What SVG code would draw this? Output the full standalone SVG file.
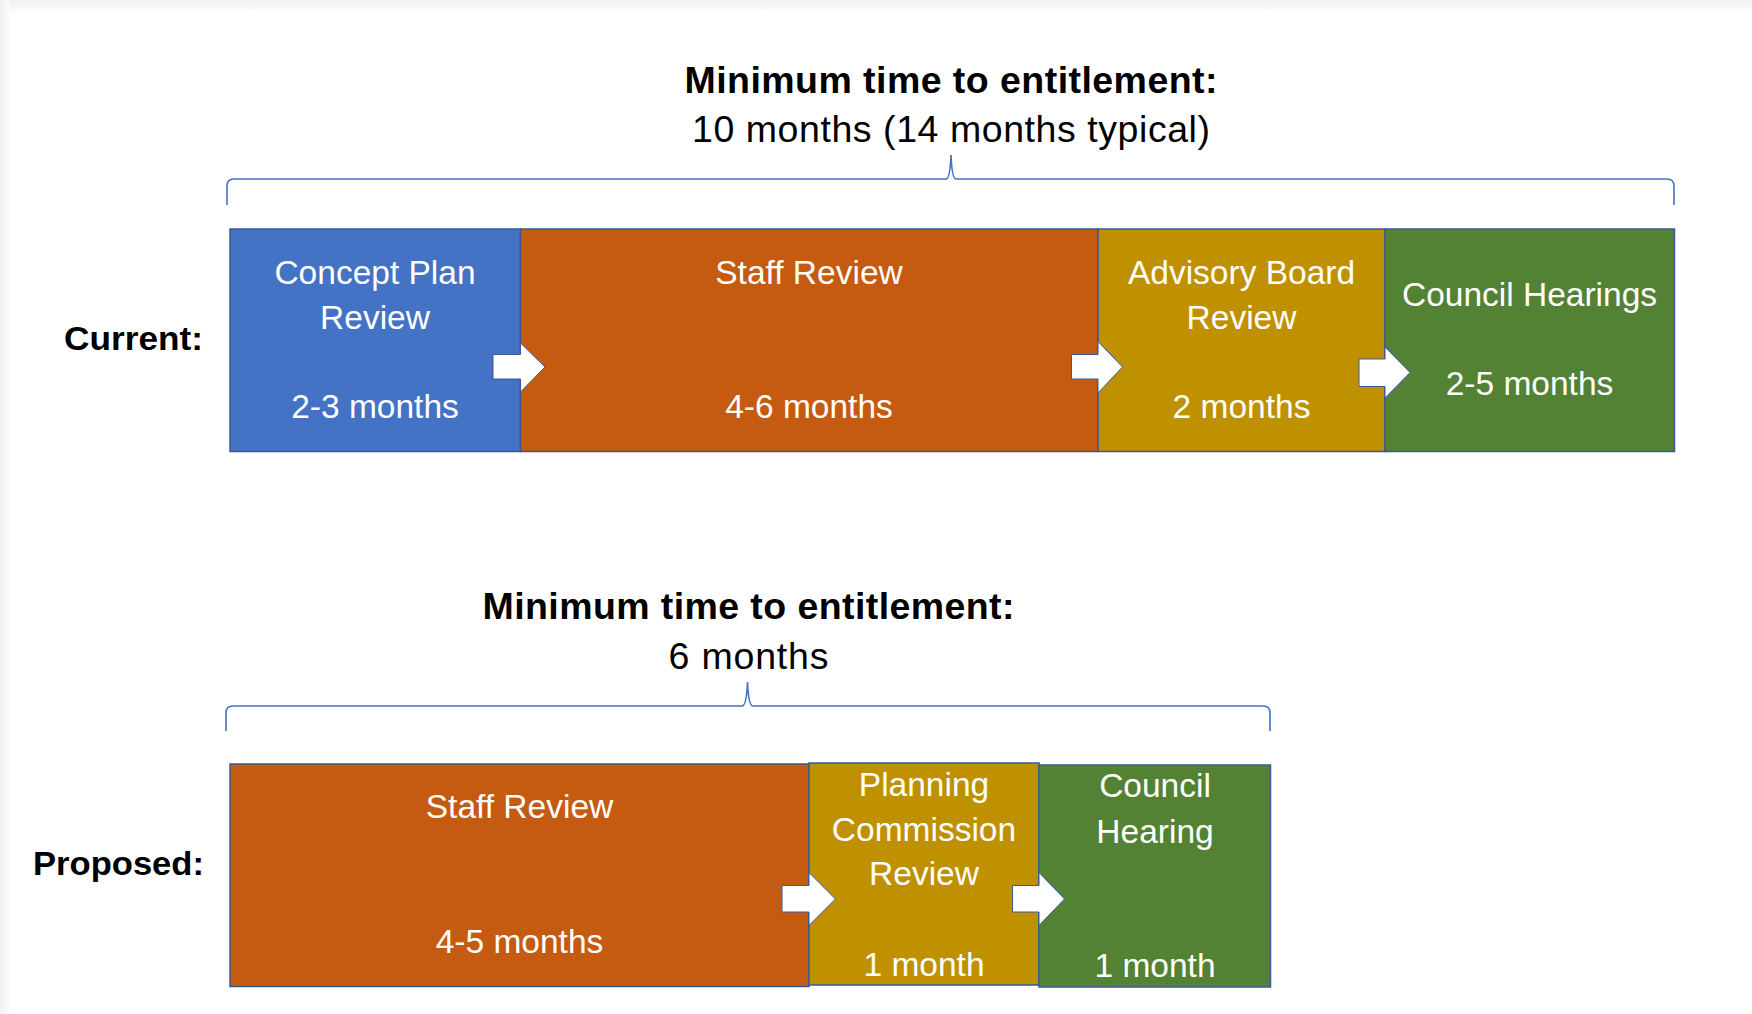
<svg xmlns="http://www.w3.org/2000/svg" width="1752" height="1014" viewBox="0 0 1752 1014">
  <defs>
    <linearGradient id="topShade" x1="0" y1="0" x2="0" y2="1">
      <stop offset="0" stop-color="#f1f1f1"/>
      <stop offset="1" stop-color="#fbfbfb"/>
    </linearGradient>
    <linearGradient id="leftShade" x1="0" y1="0" x2="1" y2="0">
      <stop offset="0" stop-color="#f1f1f1"/>
      <stop offset="1" stop-color="#fbfbfb"/>
    </linearGradient>
  </defs>
  <style>
    .box { stroke: #3a5a96; stroke-width: 1.5; }
    .blue { fill: #4472C4; }
    .orange { fill: #C55A11; }
    .gold { fill: #BF9000; }
    .green { fill: #548235; }
    .lbl { font-family: "Liberation Sans", Arial, sans-serif; font-size: 33.5px; fill: #ffffff; text-anchor: middle; }
    .title { font-family: "Liberation Sans", Arial, sans-serif; font-size: 37.5px; font-weight: bold; fill: #000000; text-anchor: middle; }
    .sub { font-family: "Liberation Sans", Arial, sans-serif; font-size: 37.5px; fill: #000000; text-anchor: middle; }
    .row { font-family: "Liberation Sans", Arial, sans-serif; font-size: 33px; font-weight: bold; fill: #000000; }
    .brace { fill: none; stroke: #4472C4; stroke-width: 1.6; }
    .arrow { fill: #ffffff; stroke: #3a5a96; stroke-width: 1; }
  </style>

  <!-- page background -->
  <rect x="0" y="0" width="1752" height="1014" fill="#ffffff"/>
  <rect x="0" y="0" width="1752" height="11" fill="url(#topShade)"/>
  <rect x="0" y="0" width="9" height="1014" fill="url(#leftShade)"/>

  <!-- Top section titles -->
  <g id="title-current">
    <text class="title" x="951" y="93" textLength="533" lengthAdjust="spacing">Minimum time to entitlement:</text>
    <text class="sub" x="951" y="142" textLength="518" lengthAdjust="spacing">10 months (14 months typical)</text>
  </g>
  <g id="label-current">
    <text class="row" x="64" y="350" textLength="139" lengthAdjust="spacingAndGlyphs">Current:</text>
  </g>

  <!-- Top row nodes -->
  <g id="node-concept-plan">
    <rect class="box blue" x="230" y="229" width="290.5" height="222.5"/>
    <text class="lbl" x="375" y="284">Concept Plan</text>
    <text class="lbl" x="375" y="329">Review</text>
    <text class="lbl" x="375" y="418">2-3 months</text>
  </g>
  <g id="node-staff-review-current">
    <rect class="box orange" x="520.5" y="229" width="577.5" height="222.5"/>
    <text class="lbl" x="809" y="284">Staff Review</text>
    <text class="lbl" x="809" y="418">4-6 months</text>
  </g>
  <g id="node-advisory-board">
    <rect class="box gold" x="1098" y="229" width="287" height="222.5"/>
    <text class="lbl" x="1241.5" y="284">Advisory Board</text>
    <text class="lbl" x="1241.5" y="329">Review</text>
    <text class="lbl" x="1241.5" y="418">2 months</text>
  </g>
  <g id="node-council-hearings">
    <rect class="box green" x="1385" y="229" width="289.5" height="222.5"/>
    <text class="lbl" x="1529.5" y="306">Council Hearings</text>
    <text class="lbl" x="1529.5" y="394.5">2-5 months</text>
  </g>

  <!-- Bottom section titles -->
  <g id="title-proposed">
    <text class="title" x="748.5" y="619" textLength="532" lengthAdjust="spacing">Minimum time to entitlement:</text>
    <text class="sub" x="748.5" y="669" textLength="160" lengthAdjust="spacing">6 months</text>
  </g>
  <g id="label-proposed">
    <text class="row" x="33" y="875" textLength="171" lengthAdjust="spacingAndGlyphs">Proposed:</text>
  </g>

  <!-- Bottom row nodes -->
  <g id="node-staff-review-proposed">
    <rect class="box orange" x="230" y="764" width="579" height="222.5"/>
    <text class="lbl" x="519.5" y="818">Staff Review</text>
    <text class="lbl" x="519.5" y="953">4-5 months</text>
  </g>
  <g id="node-planning-commission">
    <rect class="box gold" x="809" y="763" width="230" height="222"/>
    <text class="lbl" x="924" y="796">Planning</text>
    <text class="lbl" x="924" y="840.5">Commission</text>
    <text class="lbl" x="924" y="885">Review</text>
    <text class="lbl" x="924" y="975.5">1 month</text>
  </g>
  <g id="node-council-hearing">
    <rect class="box green" x="1039" y="765" width="231.5" height="222"/>
    <text class="lbl" x="1155" y="797">Council</text>
    <text class="lbl" x="1155" y="842.5">Hearing</text>
    <text class="lbl" x="1155" y="976.5">1 month</text>
  </g>

  <!-- Connectors: braces and arrows -->
  <g id="connectors">
    <path class="brace" d="M227,205 L227,186 Q227,179 234,179 L946,179 Q950,179 951,155 Q952,179 956,179 L1667,179 Q1674,179 1674,186 L1674,205"/>
    <path class="brace" d="M226,731 L226,713 Q226,706 233,706 L742,706 Q746.5,706 747.5,682 Q748.5,706 753,706 L1263,706 Q1270,706 1270,713 L1270,731"/>

    <path class="arrow" d="M493,354.5 L520.5,354.5 L520.5,343 L545,367 L520.5,392 L520.5,379 L493,379 Z"/>
    <path class="arrow" d="M1071.5,354.5 L1098,354.5 L1098,341.5 L1122.5,367 L1098,393 L1098,379 L1071.5,379 Z"/>
    <path class="arrow" d="M1359,359 L1385,359 L1385,347 L1410,372.5 L1385,398 L1385,386.5 L1359,386.5 Z"/>
    <path class="arrow" d="M782,885.5 L809,885.5 L809,872.5 L835.5,899 L809,925.5 L809,912 L782,912 Z"/>
    <path class="arrow" d="M1012.5,885.5 L1039,885.5 L1039,872.5 L1064.5,899 L1039,925.5 L1039,912 L1012.5,912 Z"/>
  </g>
</svg>
